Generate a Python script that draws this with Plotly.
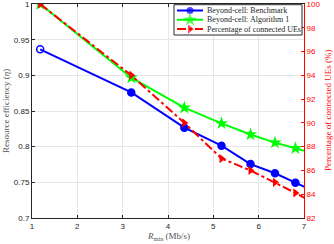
import plotly.graph_objects as go

# Data
r_min = [1.18, 3.19, 4.36, 5.18, 5.82, 6.36, 6.81, 7.18]
eff_benchmark = [0.9365, 0.876, 0.8266, 0.8013, 0.7755, 0.7627, 0.7495, 0.7385]
eff_algorithm1 = [1.0, 0.8967, 0.8546, 0.8327, 0.8170, 0.8056, 0.7977, 0.791]
pct_connected = [100, 94.0, 90.0, 87.0, 86.0, 85.0, 84.1, 83.35]

names = ["Beyond-cell: Benchmark", "Beyond-cell: Algorithm 1", "Percentage of connected UEs"]
x_ticks = [1, 2, 3, 4, 5, 6, 7]
y_ticks = [0.7, 0.75, 0.8, 0.85, 0.9, 0.95, 1.0]
y_tick_text = ["0.7", "0.75", "0.8", "0.85", "0.9", "0.95", "1"]
y2_ticks = [82, 84, 86, 88, 90, 92, 94, 96, 98, 100]

serif = "Liberation Serif"
sans = "Liberation Sans"
tick_col = "#262626"
title_col = "#555555"
colors = ["#0000ff", "#00ff00", "#ff0000"]
dashes = ["solid", "solid", "dashdot"]
symbols = ["circle", "star", "triangle-right"]
msizes = [7, 10, 8]

W, H = 334, 244
L, R, T, B = 32, 30, 4, 26

fig = go.Figure()
fig.add_trace(go.Scatter(
    x=r_min, y=eff_benchmark, name=names[0], mode="lines+markers",
    line=dict(color=colors[0], width=2),
    marker=dict(symbol=["circle-open"] + ["circle"] * 7, size=msizes[0], color=colors[0],
                line=dict(width=1.5, color=colors[0])),
    showlegend=False,
))
fig.add_trace(go.Scatter(
    x=r_min, y=eff_algorithm1, name=names[1], mode="lines+markers",
    line=dict(color=colors[1], width=2),
    marker=dict(symbol=symbols[1], size=msizes[1], color=colors[1], line=dict(width=0)),
    showlegend=False,
))
fig.add_trace(go.Scatter(
    x=r_min, y=pct_connected, name=names[2], mode="lines+markers", yaxis="y2",
    line=dict(color=colors[2], width=2, dash=dashes[2]),
    marker=dict(symbol=symbols[2], size=msizes[2], color=colors[2], line=dict(width=0)),
    showlegend=False,
))

# --- custom compact legend (MATLAB style) on an auxiliary hidden subplot ---
pw, ph = W - L - R, H - T - B
box_l, box_r, box_t, box_b = 174, 302, 4.7, 35.0
leg_dom_x = [(box_l - L) / pw, (box_r - L) / pw]
leg_dom_y = [1 - (box_b - T) / ph, 1 - (box_t - T) / ph]
box_w, box_h = box_r - box_l, box_b - box_t
row_y = [5.9, 15.1, 24.4]
# white legend background
fig.add_trace(go.Scatter(
    x=[0, box_w, box_w, 0, 0], y=[0, 0, box_h, box_h, 0], mode="lines",
    fill="toself", fillcolor="white", line=dict(width=0, color="white"),
    xaxis="x3", yaxis="y3", showlegend=False, hoverinfo="skip",
))
for i in range(3):
    fig.add_trace(go.Scatter(
        x=[3, 16, 29], y=[row_y[i]] * 3, mode="lines+markers",
        xaxis="x3", yaxis="y3", showlegend=False, hoverinfo="skip",
        line=dict(color=colors[i], width=2, dash=dashes[i]),
        marker=dict(symbol=symbols[i], size=[0, msizes[i], 0], color=colors[i],
                    line=dict(width=0)),
    ))
    fig.add_annotation(
        x=31, y=row_y[i], xref="x3", yref="y3", text=names[i],
        showarrow=False, xanchor="left", yanchor="middle",
        font=dict(family=serif, size=8, color="#262626"),
    )
fig.add_shape(type="rect", xref="x3 domain", yref="y3 domain",
              x0=0, x1=1, y0=0, y1=1, line=dict(color="#262626", width=1),
              fillcolor="rgba(0,0,0,0)", layer="above")

# axis titles
fig.add_annotation(x=0.5, y=0, xref="paper", yref="paper", yshift=-18,
                   text="<i>R</i><sub>min</sub> (Mb/s)", showarrow=False,
                   xanchor="center", yanchor="middle",
                   font=dict(family=serif, size=9, color=title_col))
fig.add_annotation(x=0, y=0.5, xref="paper", yref="paper", xshift=-L + 6,
                   text="Resource efficiency (<i>η</i>)", showarrow=False, textangle=-90,
                   xanchor="center", yanchor="middle",
                   font=dict(family=serif, size=9, color=title_col))
fig.add_annotation(x=1, y=0.5, xref="paper", yref="paper", xshift=R - 6,
                   text="Percentage of connected UEs (%)", showarrow=False, textangle=-90,
                   xanchor="center", yanchor="middle",
                   font=dict(family=serif, size=9, color="#ff0000"))

fig.update_layout(
    width=W, height=H,
    margin=dict(l=L, r=R, t=T, b=B),
    paper_bgcolor="white", plot_bgcolor="white",
    font=dict(family=sans, size=8, color=tick_col),
    showlegend=False,
    xaxis=dict(
        range=[1, 7], tickvals=x_ticks, ticks="inside", ticklen=3,
        tickcolor="#262626", showline=True, linecolor="#262626", linewidth=1,
        mirror="ticks", showgrid=True, gridcolor="#e6e6e6", zeroline=False,
        tickfont=dict(family=sans, size=8, color=tick_col), automargin=False,
        ticklabeloverflow="allow",
    ),
    yaxis=dict(
        range=[0.6999, 1.0001], tickvals=y_ticks, ticktext=y_tick_text,
        ticks="inside", ticklen=3, tickcolor="#262626",
        showline=True, linecolor="#262626", linewidth=1,
        showgrid=True, gridcolor="#e6e6e6", zeroline=False,
        tickfont=dict(family=sans, size=8, color=tick_col), automargin=False,
        ticklabeloverflow="allow",
    ),
    yaxis2=dict(
        range=[81.994, 100.006], tickvals=y2_ticks, overlaying="y", side="right",
        ticks="inside", ticklen=3, tickcolor="#ff0000",
        showline=True, linecolor="#ff0000", linewidth=1,
        showgrid=False, zeroline=False,
        tickfont=dict(family=sans, size=8, color="#ff0000"), automargin=False,
        ticklabeloverflow="allow",
    ),
    xaxis3=dict(domain=leg_dom_x, range=[0, box_w], anchor="y3", visible=False,
                fixedrange=True),
    yaxis3=dict(domain=leg_dom_y, range=[box_h, 0], anchor="x3", visible=False,
                fixedrange=True),
)

fig.write_html("out.html", config={"displayModeBar": False},
               post_script="document.body.style.margin='0';")
